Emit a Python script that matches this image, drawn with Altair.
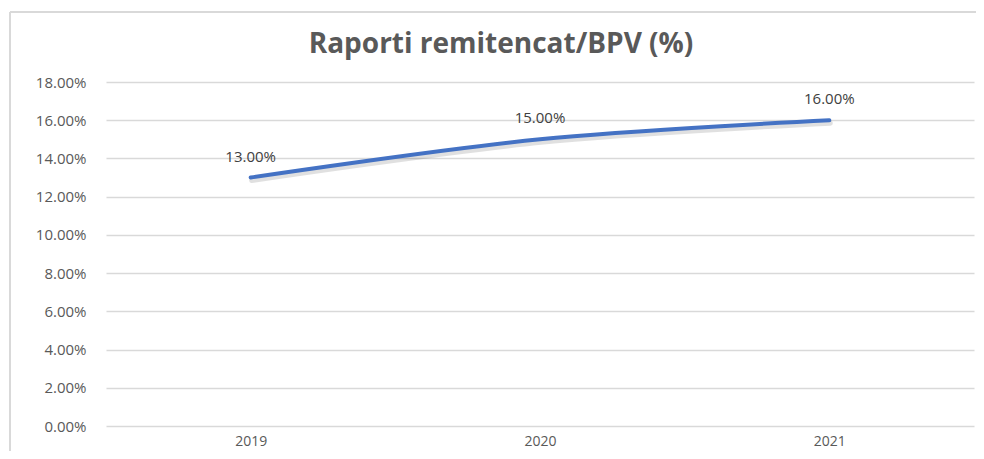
import altair as alt
import pandas as pd

years = ["2019", "2020", "2021"]
values = [0.13, 0.15, 0.16]
labels = ["13.00%", "15.00%", "16.00%"]

df = pd.DataFrame({"year": years, "value": values, "label": labels})

FONT = "Open Sans"

base = alt.Chart(df).encode(
    x=alt.X("year:N", sort=years, title=None,
            scale=alt.Scale(paddingInner=0, paddingOuter=0.5),
            axis=alt.Axis(labelAngle=0, ticks=False, domain=False, grid=False,
                          labelFontSize=14, labelColor="#595959", labelPadding=8,
                          labelFont=FONT)),
    y=alt.Y("value:Q", title=None,
            scale=alt.Scale(domain=[0, 0.18], nice=False, zero=True),
            axis=alt.Axis(values=[i / 100 for i in range(0, 19, 2)], format=".2%",
                          ticks=False, domain=False, gridColor="#d9d9d9", gridWidth=1.3,
                          labelFontSize=15, labelColor="#595959", labelPadding=20,
                          labelFont=FONT)),
)

border_left = alt.Chart(df).mark_rule(stroke="#d9d9d9", strokeWidth=1.5,
                                      clip=False).encode(
    x=alt.value(-96), y=alt.value(-70), y2=alt.value(369))
border_top = alt.Chart(df).mark_rule(stroke="#d9d9d9", strokeWidth=1.5,
                                     clip=False).encode(
    x=alt.value(-96), x2=alt.value(870), y=alt.value(-70))

shadow = base.mark_line(color="#000000", opacity=0.12, strokeWidth=5,
                        strokeCap="round", interpolate="catmull-rom",
                        xOffset=1, yOffset=3)
line = base.mark_line(color="#4472C4", strokeWidth=4, strokeCap="round",
                      interpolate="catmull-rom")
text = base.mark_text(dy=-21, fontSize=15, color="#404040", font=FONT).encode(
    text="label:N")

chart = alt.layer(border_left, border_top, shadow, line, text).properties(
    width=868, height=344,
    autosize=alt.AutoSizeParams(type="none"),
    padding={"left": 98, "top": 74, "right": 2, "bottom": 25},
    title=alt.TitleParams("Raporti remitencat/BPV (%)", fontSize=28, fontWeight="bold",
                          color="#595959", font=FONT, anchor="middle",
                          frame="group", dx=-39, offset=-48),
).configure_view(stroke=None)

chart.save("out.html", embed_options={"renderer": "svg", "actions": False})
